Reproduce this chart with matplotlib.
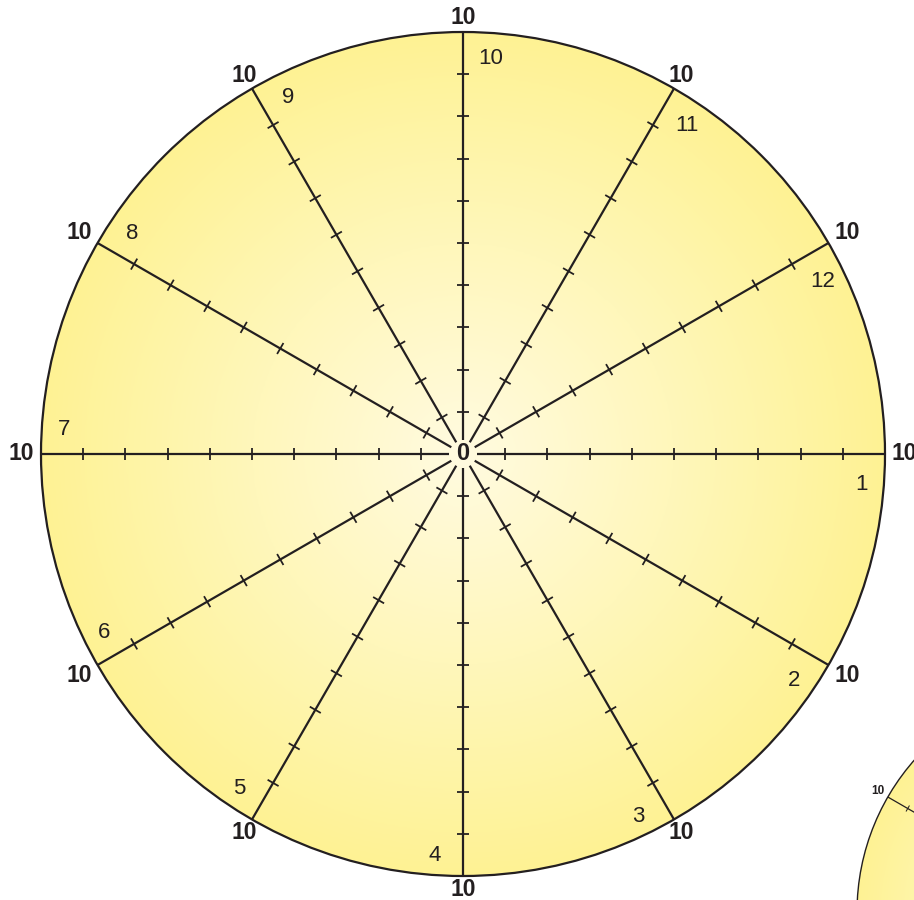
import matplotlib
matplotlib.use('Agg')
import matplotlib.pyplot as plt
import matplotlib.colors as mcolors
from matplotlib.patches import Circle
import numpy as np

# chart data
spoke_labels = ["1", "2", "3", "4", "5", "6", "7", "8", "9", "10", "11", "12"]
spoke_angles = [0, -30, -60, -90, -120, -150, 180, 150, 120, 90, 60, 30]
tick_values = [1, 2, 3, 4, 5, 6, 7, 8, 9]
max_value = 10
end_label = "10"
center_label = "0"

ink = '#231f20'
cmap = mcolors.LinearSegmentedColormap.from_list(
    'glow', ['#fffbe0', '#fff7bb', '#fef294'])

px = 42.2  # pixels per unit
W, H = 914, 900
cx, cy = 463, 454

fig = plt.figure(figsize=(W / 100, H / 100), dpi=100)
ax = fig.add_axes([0, 0, 1, 1])
ax.set_xlim(-cx / px, (W - cx) / px)
ax.set_ylim(-(H - cy) / px, cy / px)
ax.set_aspect('equal')
ax.axis('off')


def draw_wheel(x0, y0, s, big):
    R = max_value * s
    circ = Circle((x0, y0), R, facecolor='none', edgecolor=ink,
                  lw=1.6 if big else 1.0, zorder=3)
    ax.add_patch(circ)
    g = np.linspace(-1, 1, 400)
    gx, gy = np.meshgrid(g, g)
    rr = np.sqrt(gx ** 2 + gy ** 2)
    im = ax.imshow(rr, cmap=cmap, vmin=0, vmax=1,
                   extent=(x0 - R, x0 + R, y0 - R, y0 + R),
                   origin='lower', zorder=1, interpolation='bilinear')
    im.set_clip_path(circ)
    lw = 1.6 if big else 0.9
    # half size of the end label box, in units
    hw, hh, pad = 13.5 / px * s, 8 / px * s, 6 / px * s
    for a in spoke_angles:
        t = np.deg2rad(a)
        ux, uy = np.cos(t), np.sin(t)
        r0 = 0.32 * s
        ax.plot([x0 + r0 * ux, x0 + R * ux], [y0 + r0 * uy, y0 + R * uy],
                color=ink, lw=lw, zorder=4, solid_capstyle='butt')
        tl = 0.15 * s
        for v in tick_values:
            mx, my = x0 + v * s * ux, y0 + v * s * uy
            ax.plot([mx - tl * uy, mx + tl * uy], [my + tl * ux, my - tl * ux],
                    color=ink, lw=lw * 0.8, zorder=4, solid_capstyle='butt')
        ext = min(hw / max(abs(ux), 1e-6), hh / max(abs(uy), 1e-6))
        lr = R + pad + ext
        ax.text(x0 + lr * ux, y0 + lr * uy, end_label,
                fontsize=(16.5 if big else 8.5), fontweight='bold',
                family='Liberation Sans', color=ink,
                ha='center', va='center', zorder=5)
    if big:
        dy = 3 / px
        for lab, a in zip(spoke_labels, spoke_angles):
            t = np.deg2rad(a - 4)
            lr = 9.47 * s
            ax.text(x0 + lr * np.cos(t), y0 + lr * np.sin(t) - dy, lab,
                    fontsize=16, family='Liberation Sans', color=ink,
                    ha='center', va='center', zorder=5)
        ax.text(x0, y0, center_label, fontsize=17, fontweight='bold',
                family='Liberation Sans', color=ink,
                ha='center', va='center', zorder=5)


draw_wheel(0, 0, 1.0, True)
# second wheel peeking in at the bottom-right corner
draw_wheel((1087 - cx) / px, -(912 - cy) / px, 0.545, False)

plt.savefig('out.png', dpi=100)
